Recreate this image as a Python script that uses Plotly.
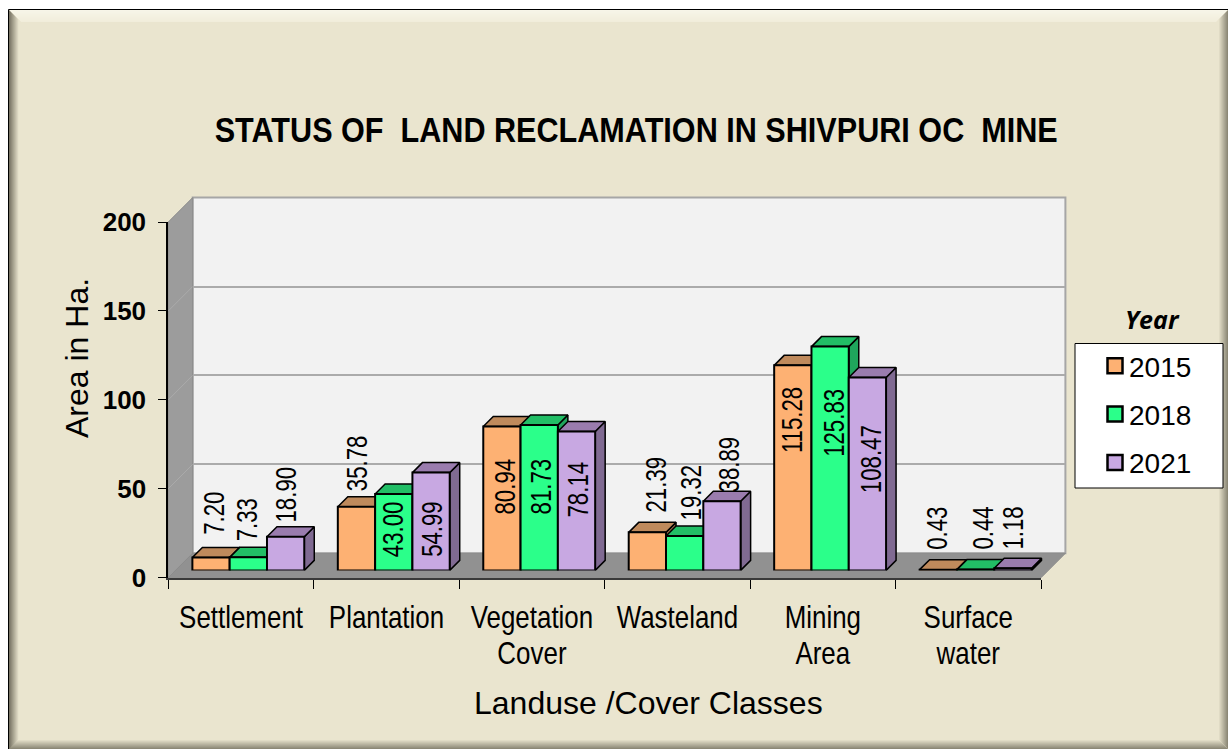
import plotly.graph_objects as go

# ---- data ----
CATEGORIES = ["Settlement", "Plantation", "Vegetation<br>Cover", "Wasteland", "Mining<br>Area", "Surface<br>water"]
YEARS = ["2015", "2018", "2021"]
V2015 = [7.20, 35.78, 80.94, 21.39, 115.28, 0.43]
V2018 = [7.33, 43.00, 81.73, 19.32, 125.83, 0.44]
V2021 = [18.90, 54.99, 78.14, 38.89, 108.47, 1.18]
Y_TICKS = [0, 50, 100, 150, 200]
TITLE = "STATUS OF \u00a0LAND RECLAMATION IN SHIVPURI OC \u00a0MINE"

# ---- styles / layout ----
W, H = 1228, 749
COL_FRONT = ["#FDB173", "#2BFF8A", "#C8A8E2"]
COL_TOP = ["#BF8A5C", "#22BE66", "#9A7CAE"]
COL_SIDE = ["#A87A50", "#1FA55C", "#806A92"]
X0, X1 = 168.3, 1041.0       # front axis pixel extents
Y0, Y200 = 577.7, 222.0
WALL = 24.4                  # wall depth px
SHIFT = 7.3                  # bar plane depth px
BAR_D = 10.0                 # bar depth px
PX_PER_CAT = (X1 - X0) / 6
PX_PER_UNIT = (Y0 - Y200) / 200
BAR_W = 37.3 / PX_PER_CAT
FONT = "Liberation Sans"
LABEL_SIZE = 30
LABEL_SQUEEZE = 0.74

def fx(p): return p / W
def fy(p): return 1 - p / H

def dom(a, b, flip=False):
    return [fy(b), fy(a)] if flip else [fx(a), fx(b)]

def poly(pts, fill, line=None, lw=0, layer="below"):
    path = "M" + " L".join(f"{fx(x):.5f},{fy(y):.5f}" for x, y in pts) + " Z"
    return dict(type="path", xref="paper", yref="paper", path=path, fillcolor=fill,
                line=dict(color=line or fill, width=lw), layer=layer)

def rect(x0, y0, x1, y1, fill, line=None, lw=0):
    return dict(type="rect", xref="paper", yref="paper", x0=fx(x0), x1=fx(x1), y0=fy(y0), y1=fy(y1),
                fillcolor=fill, line=dict(color=line or fill, width=lw), layer="below")

def mix(a, b, t):
    return "#" + "".join(f"{round(a[i]+(b[i]-a[i])*t):02X}" for i in range(3))

shapes = []
# frame
shapes.append(rect(8.5, 9.5, W + 2, H + 2, "#EAE5CF", "#000000", 1))
N = 14
for i in range(N):      # top and left bevels
    t = i / (N - 1)
    shapes.append(poly([(9 + i, 10 + i), (W - i, 10 + i), (W - i - 1, 11 + i), (10 + i, 11 + i)],
                       mix((247, 245, 232), (240, 236, 217), t) if i < 12 else "#EAE5CF"))
for i in range(N):
    t = i / (N - 1)
    shapes.append(poly([(9 + i, 10 + i), (10 + i, 11 + i), (10 + i, H - i), (9 + i, H - i)],
                       mix((120, 116, 100), (234, 229, 207), min(1, t * 1.4))))
for i in range(10):     # right and bottom bevels
    t = i / 9
    shapes.append(poly([(W - i, 10 + i), (W - i, H - i), (W - i - 1, H - i - 1), (W - i - 1, 11 + i)],
                       mix((140, 136, 118), (234, 229, 207), t)))
    shapes.append(poly([(9 + i, H - i), (W - i, H - i), (W - i - 1, H - i - 1), (10 + i, H - i - 1)],
                       mix((140, 136, 118), (234, 229, 207), t)))
# chart walls
BX0, BX1 = X0 + WALL, X1 + WALL
BY0, BY200 = Y0 - WALL, Y200 - WALL
shapes.append(poly([(BX0, BY0), (BX1, BY0), (BX1, BY200), (BX0, BY200)], "#F2F2F2", "#A6A6A6", 2))
shapes.append(poly([(X0, Y0), (BX0, BY0), (BX0, BY200), (X0, Y200)], "#9C9C9C", "#8C8C8C", 1))
shapes.append(poly([(X0, Y0), (X1, Y0), (BX1, BY0), (BX0, BY0)], "#919191", "#8C8C8C", 1))
for v in Y_TICKS[1:-1]:
    py = Y0 - v * PX_PER_UNIT
    shapes.append(dict(type="line", xref="paper", yref="paper", x0=fx(X0), x1=fx(BX0), y0=fy(py), y1=fy(py - WALL),
                       line=dict(color="#ABABAB", width=1), layer="below"))
# legend box
shapes.append(rect(1075, 343.5, 1223, 488, "#FFFFFF", "#000000", 1))

fig = go.Figure()
values = [V2015, V2018, V2021]
idx = list(range(6))

# back wall gridlines
fig.add_trace(go.Scatter(x=[0], y=[None], xaxis="x", yaxis="y", showlegend=False, hoverinfo="skip"))
# front axes with tick labels
fig.add_trace(go.Scatter(x=CATEGORIES, y=[None] * 6, xaxis="x2", yaxis="y2", showlegend=False, hoverinfo="skip"))

dxu = BAR_D / PX_PER_CAT
dyu = BAR_D / PX_PER_UNIT
# top and side faces
for s, vals in enumerate(values):
    off = (s - 1) * BAR_W
    for i, v in zip(idx, vals):
        l, r = i + off - BAR_W / 2, i + off + BAR_W / 2
        fig.add_trace(go.Scatter(x=[r, r + dxu, r + dxu, r, r], y=[0, dyu, v + dyu, v, 0], mode="lines",
                                 fill="toself", fillcolor=COL_SIDE[s], line=dict(color="#000000", width=1.5),
                                 xaxis="x3", yaxis="y3", showlegend=False, hoverinfo="skip"))
        fig.add_trace(go.Scatter(x=[l, r, r + dxu, l + dxu, l], y=[v, v, v + dyu, v + dyu, v], mode="lines",
                                 fill="toself", fillcolor=COL_TOP[s], line=dict(color="#000000", width=1.5),
                                 xaxis="x3", yaxis="y3", showlegend=False, hoverinfo="skip"))
# front faces
for s, vals in enumerate(values):
    fig.add_trace(go.Bar(x=idx, y=vals, name=YEARS[s], legendgroup=YEARS[s], xaxis="x4", yaxis="y4",
                         marker=dict(color=COL_FRONT[s], line=dict(color="#000000", width=2))))

# value labels: centre x px, bottom y px of each rotated text
LABEL_CX = [[213, 246.5, 285], [357, 393, 431.7], [504, 540, 577], [655, 690, 728], [790.7, 832.7, 870], [936, 982.7, 1012.7]]
LABEL_BOT = [[535, 541, 522], [490.7, 556.7, 556.7], [514, 514, 517], [512, 520, 492], [454, 457, 493], [550, 550, 550]]
annotations = []
BASE = Y0 - SHIFT
for i in idx:
    for s in range(3):
        v = values[s][i]
        off = (s - 1) * BAR_W
        cx = X0 + SHIFT + (i + 0.5 + off) * PX_PER_CAT
        top = BASE - v * PX_PER_UNIT
        txt = f"{v:.2f}"
        length = ((len(txt) - 1) * 0.556 + 0.278) * LABEL_SIZE * LABEL_SQUEEZE
        centre = LABEL_BOT[i][s] - length / 2
        annotations.append(dict(x=i + off, y=v, xref="x4", yref="y4", text=txt, textangle=-90,
                                showarrow=False, xanchor="center", yanchor="middle", borderpad=0,
                                xshift=LABEL_CX[i][s] - cx, yshift=top - centre,
                                font=dict(family=FONT, size=LABEL_SIZE, color="#000000")))
def note(x, y, text, font, angle=0):
    annotations.append(dict(x=fx(x), y=fy(y), xref="paper", yref="paper", text=text, textangle=angle, showarrow=False,
                            xanchor="center", yanchor="middle", font=font))
note(636, 129, TITLE, dict(family=FONT, size=35, color="#000000", weight="bold"))
note(1152, 319, "Year", dict(family="Open Sans", size=25, color="#000000", weight="bold", style="italic"))
note(648, 703, "Landuse /Cover Classes", dict(family=FONT, size=32, color="#000000"))
note(77, 358, "Area in Ha.", dict(family=FONT, size=32, color="#000000"), -90)

hidden = dict(visible=False, showgrid=False, zeroline=False)
fig.update_layout(
    width=W, height=H, margin=dict(l=0, r=0, t=0, b=0, pad=0, autoexpand=False), autosize=False,
    paper_bgcolor="#FFFFFF", plot_bgcolor="rgba(0,0,0,0)",
    barmode="group", bargap=1 - 3 * BAR_W, bargroupgap=0,
    shapes=shapes, annotations=annotations,
    xaxis=dict(domain=dom(BX0, BX1), range=[0, 1], anchor="y", visible=False, showgrid=False, zeroline=False),
    yaxis=dict(domain=dom(BY200, BY0, True), range=[0, 200], anchor="x", tickvals=Y_TICKS, ticks="", showticklabels=False,
               showgrid=True, gridcolor="#ABABAB", gridwidth=2, zeroline=False, showline=False),
    xaxis2=dict(domain=dom(X0, X1), type="category", categoryorder="array", categoryarray=CATEGORIES,
                range=[-0.5, 5.5], anchor="y2", tickson="boundaries", ticks="outside", ticklen=9, tickwidth=1,
                tickcolor="#000000", showline=True, linecolor="#3A3A3A", linewidth=2, showgrid=False, zeroline=False,
                tickangle=0, ticklabelstandoff=10, tickfont=dict(family=FONT, size=32, color="#000000")),
    yaxis2=dict(domain=dom(Y200, Y0, True), range=[0, 200], anchor="x2", tickvals=Y_TICKS, ticks="outside", ticklen=8,
                tickwidth=1, tickcolor="#000000", showline=True, linecolor="#000000", linewidth=2, showgrid=False,
                zeroline=False, ticklabelstandoff=7, tickfont=dict(family=FONT, size=26, color="#000000", weight="bold")),
    xaxis3=dict(domain=dom(X0 + SHIFT, X1 + SHIFT), range=[-0.5, 5.5], anchor="y3", **hidden),
    yaxis3=dict(domain=dom(Y200 - SHIFT, Y0 - SHIFT, True), range=[0, 200], anchor="x3", **hidden),
    xaxis4=dict(domain=dom(X0 + SHIFT, X1 + SHIFT), range=[-0.5, 5.5], anchor="y4", **hidden),
    yaxis4=dict(domain=dom(Y200 - SHIFT, Y0 - SHIFT, True), range=[0, 200], anchor="x4", **hidden),
    legend=dict(x=fx(1089), y=fy(341), xanchor="left", yanchor="top", bgcolor="rgba(0,0,0,0)", borderwidth=0,
                traceorder="grouped", tracegroupgap=9, itemwidth=30, font=dict(family=FONT, size=28, color="#000000")),
    showlegend=True,
)

# The reference text is a condensed face that is not installed: squeeze glyphs horizontally.
POST = """
document.body.style.margin='0';document.body.style.overflow='hidden';
function squeeze(el,f){var n=el.getComputedTextLength();el.setAttribute('textLength',n*f);el.setAttribute('lengthAdjust','spacingAndGlyphs');}
document.querySelectorAll('.annotation-text').forEach(function(t){
  var s=t.textContent;
  if(/^\\d+\\.\\d\\d$/.test(s)) squeeze(t,%s);
  else if(s.indexOf('STATUS')===0){t.setAttribute('textLength',843);t.setAttribute('lengthAdjust','spacingAndGlyphs');}
});
document.querySelectorAll('.xaxislayer-above .x2tick text').forEach(function(t){
  var lines=t.querySelectorAll('tspan.line');
  if(lines.length){lines.forEach(function(l,i){squeeze(l,0.81);if(i>0)l.setAttribute('dy','1.125em');});}
  else squeeze(t,0.81);
});
document.querySelectorAll('.legend .legendpoints path').forEach(function(p){p.setAttribute('transform','translate(26,0) scale(1.25)');});
""" % LABEL_SQUEEZE
fig.write_html("out.html", post_script=POST, config={"displayModeBar": False})
